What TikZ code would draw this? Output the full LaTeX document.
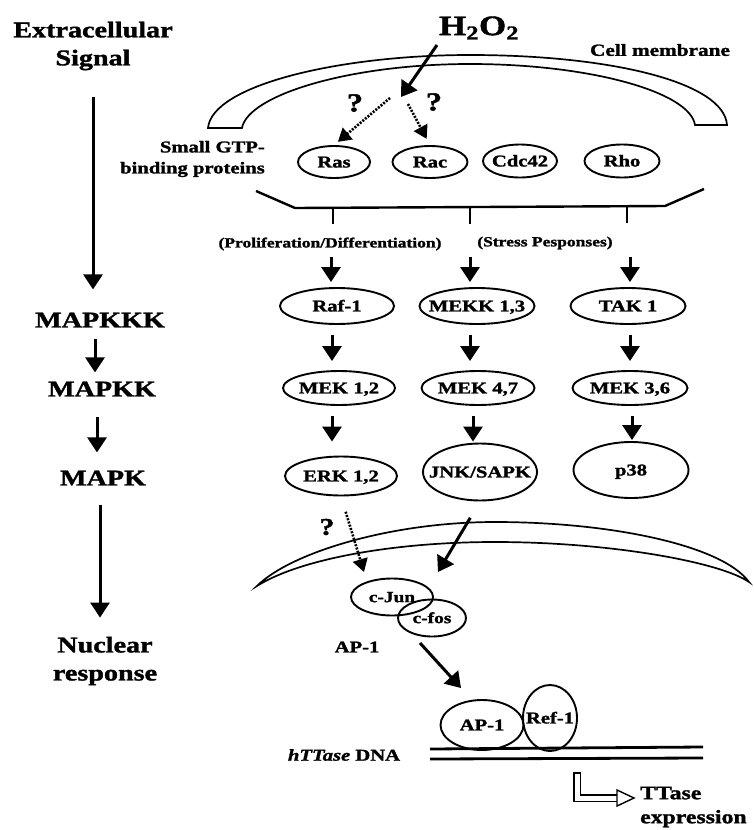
\documentclass[tikz,border=0pt]{standalone}
\usepackage{fontspec}
\setmainfont[FakeStretch=1.25, BoldFeatures={FakeBold=1.5}, BoldItalicFeatures={FakeBold=1.5}]{Liberation Serif}
\usetikzlibrary{arrows.meta,shapes.geometric,calc}
\newcommand\mylbl[1]{\makebox[0pt]{\raisebox{-0.33em}[0pt][0pt]{#1}}}
\begin{document}
\begin{tikzpicture}[x=1pt,y=-1pt,
 every node/.style={inner sep=0pt},
 big/.style={font=\fontsize{22.5}{28}\selectfont\bfseries, align=center},
 mid/.style={font=\fontsize{16.5}{21}\selectfont\bfseries},
 sml/.style={font=\fontsize{14}{17}\selectfont\bfseries},
 qm/.style={font=\fontsize{26}{28}\selectfont\bfseries},
 ov/.style 2 args={ellipse, draw, line width=1.9pt, minimum width=#1, minimum height=#2, inner sep=0pt, font=\fontsize{16.5}{18}\selectfont\bfseries},
 arr/.style={line width=3pt, -{Triangle[width=19pt,length=15pt]}},
 darr/.style={line width=2.6pt, dash pattern=on 2pt off 1.4pt, -{Triangle[width=15pt,length=13pt]}},
 mem/.style={line width=1.7pt},
]
\useasboundingbox[fill=white] (0,0) rectangle (753,830);

% ---------- left column ----------
\node[big] (ext) at (93,46) {Extracellular\\Signal};
\node[big] (mkkk) at (100,320) {MAPKKK};
\node[big] (mkk) at (102,389) {MAPKK};
\node[big] (mk) at (103,478) {MAPK};
\node[big] (nuc) at (105,661) {Nuclear\\response};
\draw[arr, shorten <=27pt, shorten >=23pt] (ext.south) -- (ext.south |- mkkk.north);
\draw[arr, shorten <=11pt, shorten >=9pt] ([xshift=-5pt]mkkk.south) -- ([xshift=-5pt]mkkk.south |- mkk.north);
\draw[arr, shorten <=20pt, shorten >=18pt] ([xshift=-5pt]mkk.south) -- ([xshift=-5pt]mkk.south |- mk.north);
\draw[arr, shorten <=19pt, shorten >=19pt] ([xshift=-3pt]mk.south) -- ([xshift=-3pt]mk.south |- nuc.north);

% ---------- cell membrane ----------
\draw[mem] (208,128) .. controls (212,85) and (340,55) .. (470,55)
  .. controls (610,55) and (724,82) .. (727,125) -- (695,125)
  .. controls (690,92) and (590,64) .. (470,64)
  .. controls (350,64) and (248,95) .. (242,128) -- cycle;
\node[font=\fontsize{17}{20}\selectfont\bfseries] (cm) at (660,50) {Cell membrane};
\node[font=\fontsize{28}{30}\selectfont\bfseries] (h2o2) at (479,28) {H\textsubscript{2}O\textsubscript{2}};
\coordinate (hs) at (437,45);
\coordinate (hx) at (401,97);
\draw[arr] (hs) -- (hx);

% ---------- small GTP-binding proteins ----------
\node[mid, align=right, anchor=east] (gtp) at (265,159) {Small GTP-\\binding proteins};
\node[ov={72pt}{32pt}] (ras) at (334,162) {\mylbl{Ras}};
\node[ov={75pt}{32pt}] (rac) at (430,162) {\mylbl{Rac}};
\node[ov={74pt}{33pt}] (cdc) at (520,161) {\mylbl{Cdc42}};
\node[ov={75pt}{33pt}] (rho) at (622,161) {\mylbl{Rho}};
\coordinate (ds1) at (390,98);
\coordinate (ds2) at (408,104);
\draw[darr, shorten >=5pt] (ds1) -- (ras.north);
\draw[darr, shorten >=7pt] (ds2) -- (rac.north);
\node[qm] (q1) at (355,103) {?};
\node[qm] (q2) at (434,102) {?};

% ---------- bracket ----------
\coordinate (b0) at (256,191);
\coordinate (b1) at (295,208);
\coordinate (b2) at (665,206);
\coordinate (b3) at (704,189);
\draw[line width=2.4pt] (b0) -- (b1) -- (b2) -- (b3);
\coordinate (t1) at (333,207);
\coordinate (t2) at (470,207);
\coordinate (t3) at (627,206);
\draw[line width=2.4pt] (t1) -- ++(0,17);
\draw[line width=2.4pt] (t2) -- ++(0,17);
\draw[line width=2.4pt] (t3) -- ++(0,17);
\node[sml] (prol) at (330,244) {(Proliferation/Differentiation)};
\node[sml] (stress) at (545,243) {(Stress Pesponses)};

% ---------- MAPK cascades ----------
\node[ov={114pt}{36pt}] (raf) at (337,306) {\mylbl{Raf-1}};
\node[ov={115pt}{36pt}] (mekk) at (477,306) {\mylbl{MEKK 1,3}};
\node[ov={115pt}{36pt}] (tak) at (628,306) {\mylbl{TAK 1}};
\node[ov={112pt}{34pt}] (mek12) at (339,388) {\mylbl{MEK 1,2}};
\node[ov={113pt}{34pt}] (mek47) at (478,388) {\mylbl{MEK 4,7}};
\node[ov={115pt}{34pt}] (mek36) at (630,388) {\mylbl{MEK 3,6}};
\node[ov={112pt}{39pt}] (erk) at (341,476) {\mylbl{ERK 1,2}};
\node[ov={114pt}{57pt}] (jnk) at (480,472) {\mylbl{JNK/SAPK}};
\node[ov={115pt}{56pt}] (p38) at (631,470) {\mylbl{p38}};

\coordinate (a1) at (331,257);
\coordinate (a2) at (470,257);
\coordinate (a3) at (630,257);
\draw[arr, shorten >=5pt] (a1) -- (a1 |- raf.north);
\draw[arr, shorten >=5pt] (a2) -- (a2 |- mekk.north);
\draw[arr, shorten >=5pt] (a3) -- (a3 |- tak.north);

\draw[arr, shorten <=10pt, shorten >=9pt] ([xshift=-5pt]raf.south) -- ([xshift=-5pt]raf.south |- mek12.north);
\draw[arr, shorten <=10pt, shorten >=9pt] ([xshift=-7pt]mekk.south) -- ([xshift=-7pt]mekk.south |- mek47.north);
\draw[arr, shorten <=10pt, shorten >=9pt] ([xshift=2pt]tak.south) -- ([xshift=2pt]tak.south |- mek36.north);
\draw[arr, shorten <=10pt, shorten >=14pt] ([xshift=-7pt]mek12.south) -- ([xshift=-7pt]mek12.south |- erk.north);
\draw[arr, shorten <=10pt, shorten >=1pt] ([xshift=-5pt]mek47.south) -- ([xshift=-5pt]mek47.south |- jnk.north);
\draw[arr, shorten <=10pt, shorten >=1pt] ([xshift=2pt]mek36.south) -- ([xshift=2pt]mek36.south |- p38.north);

% ---------- nuclear membrane ----------
\draw[mem] (257,586) .. controls (290,553) and (390,522) .. (495,522)
  .. controls (610,522) and (722,545) .. (749,582)
  .. controls (720,562) and (610,542) .. (495,542)
  .. controls (390,542) and (298,560) .. (257,586) -- cycle;

\coordinate (dn) at (364,572);
\coordinate (jn) at (438,572);
\draw[darr, shorten <=16pt] (erk.south) -- (dn);
\draw[arr, shorten <=19pt] (jnk.south) -- (jn);
\node[qm, font=\fontsize{24}{26}\selectfont\bfseries] (q3) at (327,527) {?};

\node[ov={82pt}{37pt}, font=\fontsize{15.5}{18}\selectfont\bfseries] (cjun) at (392,597) {\mylbl{c-Jun}};
\node[ov={68pt}{37pt}, font=\fontsize{15.5}{18}\selectfont\bfseries] (cfos) at (432,618) {\mylbl{c-fos}};
\node[mid] (ap1l) at (357,647) {AP-1};

\coordinate (c1) at (420,643);
\coordinate (c2) at (461,688);
\draw[arr] (c1) -- (c2);

% ---------- DNA ----------
\node[ov={83pt}{50pt}] (ap1) at (482,725) {\mylbl{AP-1}};
\node[ov={54pt}{66pt}] (ref) at (550,718) {\mylbl{Ref-1}};
\node[mid] (dna) at (344,755) {\textit{hTTase} DNA};
\coordinate (l1a) at (430,749);
\coordinate (l1b) at (703,747);
\coordinate (l2a) at (430,759);
\coordinate (l2b) at (703,758);
\draw[line width=2.8pt] (l1a) -- (l1b);
\draw[line width=2.8pt] (l2a) -- (l2b);

\coordinate (e1) at (577,773);
\coordinate (e2) at (618,798);
\draw[line width=1.4pt, double distance=5pt] (e1) |- (e2);
\draw[line width=1.4pt] ($(e1)+(-3.9,0)$) -- ($(e1)+(3.9,0)$);
\coordinate (h1) at (617,790);
\coordinate (h2) at (634,798);
\coordinate (h3) at (617,806);
\draw[line width=1.4pt, fill=white, line join=miter] (h1) -- (h2) -- (h3) -- cycle;
\node[font=\fontsize{19}{24}\selectfont\bfseries, align=left, anchor=west] (tt) at (640,807) {TTase\\expression};
\end{tikzpicture}
\end{document}
